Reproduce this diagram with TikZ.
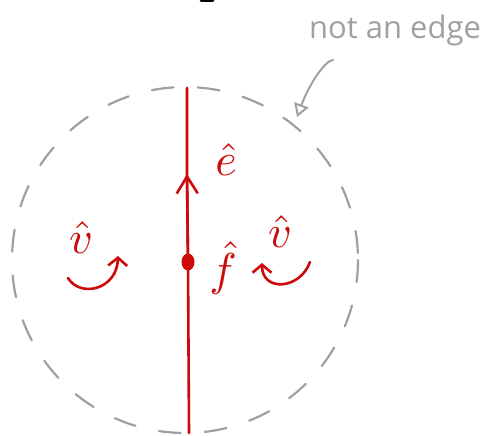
\documentclass[tikz,border=0pt]{standalone}
\usepackage{fontspec}
\usepackage{amsmath}
\usepackage{tikz}
\usetikzlibrary{arrows.meta,positioning,shapes.geometric}
\newfontfamily\handfont{Open Sans}
\definecolor{Pen}{HTML}{CC0A0A}
\definecolor{Pencil}{HTML}{A0A0A0}
\tikzset{
  edgeline/.style={draw=Pen,line width=2.6pt,line cap=round},
  edgearrow/.style={edgeline,-{Straight Barb[length=17pt,width=21pt,line width=2.6pt]}},
  turn/.style={edgeline,-{Straight Barb[length=8pt,width=19pt,line width=2.6pt]}},
  hatlabel/.style={text=Pen,font=\normalsize,scale=4.6,inner sep=0pt},
  boundary/.style={draw=Pencil,line width=2.2pt,dash pattern=on 22pt off 24pt,line cap=round},
  note/.style={text=Pencil,font=\handfont\fontsize{31}{34}\selectfont,inner sep=0pt},
  pointer/.style={draw=Pencil,line width=2pt,line cap=round,-{Triangle[open,length=13pt,width=15pt,line width=2pt]}}
}
\begin{document}
\begin{tikzpicture}[x=1pt,y=-1pt]
  \useasboundingbox (0,0) rectangle (488,436);
  \draw[line width=2.5pt,line cap=round] (201,0.5) -- (213,0.5);
  \draw[boundary] (185,260) circle[radius=173];
  \coordinate (top) at (187,88);
  \coordinate (bot) at (189,433);
  \coordinate (mid) at (187,174);
  \node[fill=Pen,ellipse,minimum width=13pt,minimum height=17pt,inner sep=0pt] (dot) at (188,262) {};
  \draw[edgeline] (bot) -- (dot.center) -- (mid) -- (top);
  \draw[edgearrow] (dot.center) -- (mid);
  \node[hatlabel] (ehat) at (226,160) {$\hat{e}$};
  \node[hatlabel] (fhat) at (223,268) {$\hat{f}$};
  \node[hatlabel] (vleft) at (81,238) {$\hat{v}$};
  \node[hatlabel] (vright) at (280,232) {$\hat{v}$};
  \coordinate (lstart) at (68,278);
  \coordinate (lend) at (118,256);
  \draw[turn] (lstart) .. controls (80,298) and (117,290) .. (lend);
  \coordinate (rstart) at (310,262);
  \coordinate (rend) at (262,263);
  \draw[turn] (rstart) .. controls (300,290) and (262,292) .. (rend);
  \node[note] (label) at (395,30) {not an edge};
  \coordinate (hook) at (333,60);
  \coordinate (tip) at (297,117);
  \draw[pointer] (hook) .. controls (326,60) and (310,82) .. (tip);
\end{tikzpicture}
\end{document}
